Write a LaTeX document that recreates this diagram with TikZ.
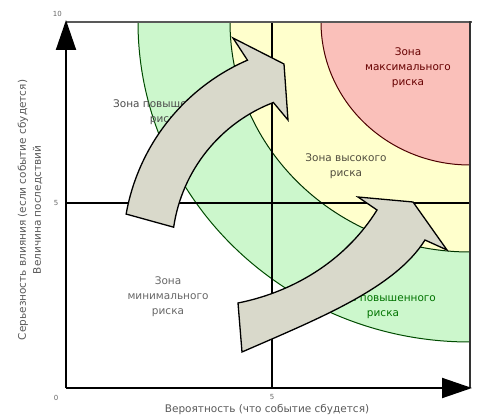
\documentclass[tikz,border=0pt]{standalone}
\usepackage{fontspec}
\setmainfont{DejaVu Sans}
\usetikzlibrary{arrows.meta}
\definecolor{zgreen}{RGB}{204,247,204}
\definecolor{zyellow}{RGB}{255,255,204}
\definecolor{zred}{RGB}{250,192,186}
\definecolor{bandfill}{RGB}{217,217,203}
\begin{document}
\begin{tikzpicture}[x=1pt,y=1pt]
\tikzstyle{zlbl}=[align=center, inner sep=0pt, font=\fontsize{10.5}{15}\selectfont]
\tikzstyle{tick}=[inner sep=0pt, text=black!60, font=\fontsize{7}{8}\selectfont]
\tikzstyle{band}=[draw, line width=1.3pt, fill=bandfill, line join=miter]
\useasboundingbox (0,0) rectangle (487,418);
	\coordinate (O) at (66,30);
	\coordinate (C) at (470,396);
	\coordinate (ytop) at (66,398);
	\coordinate (xend) at (472,30);
% zones
\begin{scope}
\clip (66,30) rectangle (470,396);
\filldraw[fill=zgreen, draw=green!30!black, line width=1pt] (C) ellipse [x radius=332, y radius=320];
\filldraw[fill=zyellow, draw=green!20!black, line width=1pt] (C) ellipse [x radius=240, y radius=230];
\filldraw[fill=zred, draw=red!30!black, line width=1pt] (C) ellipse [x radius=149, y radius=143];
\end{scope}
\draw[line width=1.2pt] (272,30) -- (272,396) (66,215) -- (470,215);
\draw[line width=2.5pt, black!65] (66,396) -- (472,396);
\draw[line width=2.5pt, black!80] (470,30) -- (470,397);
% zone labels
	\node[zlbl, text=black!70] (zup1) at (166,306) {Зона повышенного\\риска};
	\node[zlbl, text=black!65!yellow!60!black] (zhigh) at (346,252) {Зона высокого\\риска};
	\node[zlbl, text=red!40!black] (zmax) at (408,350) {Зона\\максимального\\риска};
	\node[zlbl, text=black!60] (zmin) at (168,121) {Зона\\минимального\\риска};
	\node[zlbl, text=green!45!black] (zup2) at (383,112) {Зона повышенного\\риска};
% arrows
	\coordinate (uc) at (330,168);
\draw[band] ([shift={(170:207)}]uc) arc[start angle=170, end angle=113.5, radius=207]
  -- (233,380) -- (284,354) -- (288,298) -- ([shift={(111:158)}]uc)
  arc[start angle=111, end angle=171.7, radius=158] -- cycle;
\draw[band] (238,115) .. controls (298,127) and (348,161) .. (377,208)
  -- (358,221) -- (413,216) -- (447,168) -- (425,178)
  .. controls (395,130) and (320,100) .. (242,66) -- cycle;
% axes
\draw[line width=2pt, -{Triangle[length=30pt,width=20pt]}] (O) -- (ytop);
\draw[line width=2pt, -{Triangle[length=30pt,width=20pt]}] (O) -- (xend);
	\node[tick, anchor=east] (t10) at (62,404) {10};
	\node[tick] (ty5) at (56,215) {5};
	\node[tick] (t0) at (56,20) {0};
	\node[tick] (tx5) at (272,21) {5};
	\node[zlbl, text=black!65] (xlbl) at (267,8) {Вероятность (что событие сбудется)};
	\node[zlbl, text=black!65, rotate=90] (ylbl) at (30,208) {Серьезность влияния (если событие сбудется)\\Величина последствий};
\end{tikzpicture}
\end{document}
